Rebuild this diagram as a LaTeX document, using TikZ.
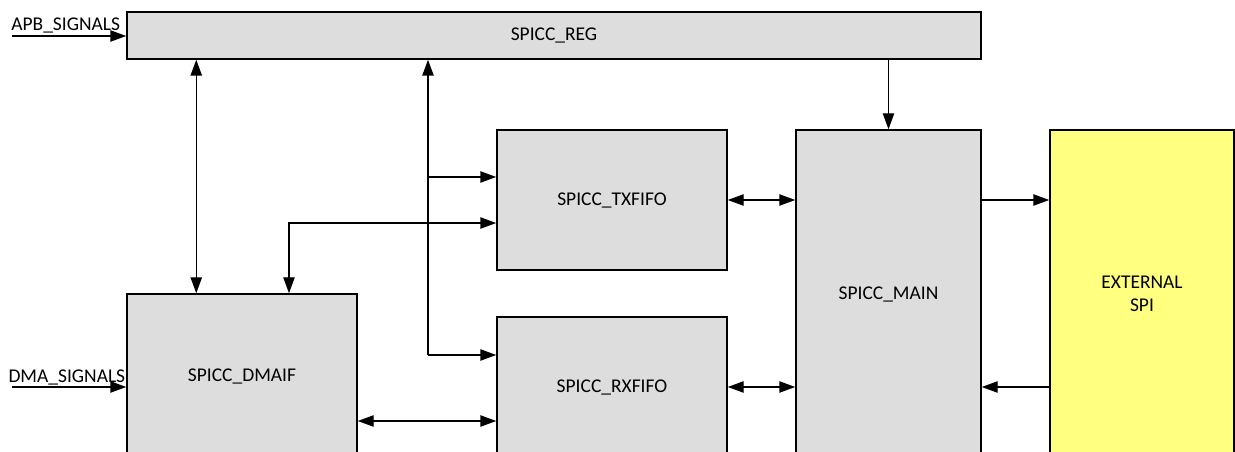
\documentclass[tikz,border=0pt]{standalone}
\usepackage{fontspec}
\setmainfont{Carlito}
\usepackage{xcolor}
\usetikzlibrary{arrows.meta,positioning}
\definecolor{blkgray}{HTML}{DDDDDD}
\definecolor{extyellow}{HTML}{FFFF80}

\begin{document}
\begin{tikzpicture}[
  x=0.75pt, y=-0.75pt,
  font=\fontsize{14.6}{17}\selectfont,
  box/.style={draw, line width=1.1pt, fill=blkgray, align=center, inner sep=0pt},
  arr/.style={-{Triangle[length=12pt, width=8.5pt]}, line width=1.1pt},
  biarr/.style={{Triangle[length=12pt, width=8.5pt]}-{Triangle[length=12pt, width=8.5pt]}, line width=1.1pt}
]
\useasboundingbox (0,0) rectangle (1235,452);
\clip (0,0) rectangle (1235,452);

\node[box, minimum width=640.5pt, minimum height=35.25pt] (reg) at (554,35.5) {SPICC\_REG};
\node[box, minimum width=172.5pt, minimum height=123pt] (dmaif) at (242,376) {SPICC\_DMAIF};
\node[box, minimum width=172.5pt, minimum height=105pt] (txfifo) at (612,200) {SPICC\_TXFIFO};
\node[box, minimum width=172.5pt, minimum height=105pt] (rxfifo) at (612,387) {SPICC\_RXFIFO};
\node[box, minimum width=138.75pt, minimum height=246pt] (main) at (888.5,294) {SPICC\_MAIN};
\node[box, fill=extyellow, minimum width=138pt, minimum height=246pt] (ext) at (1142,294) {EXTERNAL\\SPI};

\coordinate (apb) at (12,36);
\coordinate (dma) at (12,387);
\draw[arr] (apb) -- (apb -| reg.west) node[pos=0.47, above, inner sep=1.5pt] (apblbl) {APB\_SIGNALS};
\draw[arr] (dma) -- (dma -| dmaif.west) node[pos=0.48, above, inner sep=0.5pt] (dmalbl) {DMA\_SIGNALS};

\draw[biarr] ([xshift=52.5pt]dmaif.north west |- reg.south) -- ([xshift=52.5pt]dmaif.north west);

\coordinate (bus) at (428,355);
\coordinate (bustx) at (428,177);
\draw[arr] (bus) -- (bus |- reg.south);
\draw[arr] (bus) -- (bus -| rxfifo.west);
\draw[arr] (bustx) -- (bustx -| txfifo.west);

\draw[biarr] ([yshift=-17.25pt]txfifo.west) -| ([xshift=35.25pt]dmaif.north);
\draw[biarr] ([yshift=-33.75pt]dmaif.east) -- ([yshift=-33.75pt]dmaif.east -| rxfifo.west);

\draw[biarr] (txfifo.east) -- (txfifo.east -| main.west);
\draw[biarr] (rxfifo.east) -- (rxfifo.east -| main.west);
\draw[arr] (reg.south -| main.north) -- (main.north);
\draw[arr] (txfifo.east -| main.east) -- (txfifo.east -| ext.west);
\draw[arr] (rxfifo.east -| ext.west) -- (rxfifo.east -| main.east);

\end{tikzpicture}
\end{document}
